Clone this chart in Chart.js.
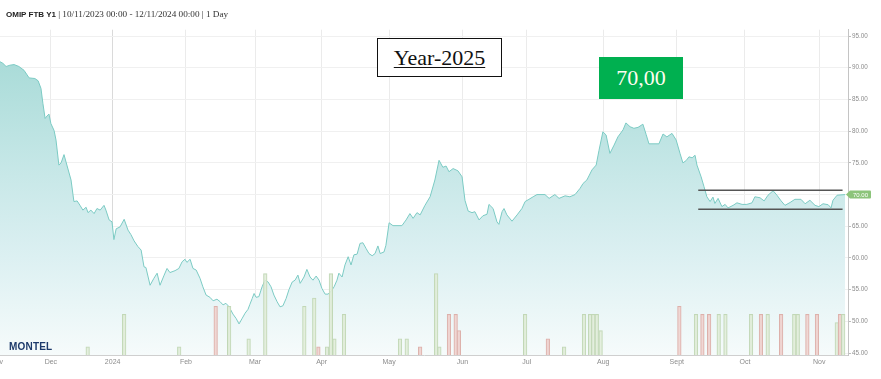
<!DOCTYPE html>
<html>
<head>
<meta charset="utf-8">
<script src="https://cdn.jsdelivr.net/npm/chart.js@4.4.1/dist/chart.umd.min.js"></script>
<style>
html,body{margin:0;padding:0;background:#fff;}
#wrap{position:relative;width:881px;height:379px;overflow:hidden;background:#fff;}
#c{position:absolute;left:0;top:0;}
#title{position:absolute;left:6px;top:9px;font-family:"Liberation Serif",serif;font-size:9.2px;line-height:11px;color:#333;white-space:nowrap;z-index:2;}
#title b{font-family:"Liberation Sans",Arial,sans-serif;font-size:8px;color:#222;}
#yearBox{position:absolute;left:377px;top:38px;width:123px;height:37px;border:1.5px solid #111;background:#fff;z-index:2;text-align:center;font-family:"Liberation Serif",serif;font-size:22px;line-height:37px;color:#111;}
#yearBox span{text-decoration:underline;text-decoration-thickness:1px;text-underline-offset:2px;}
#priceBox{position:absolute;left:599px;top:57px;width:84px;height:42px;background:#00b050;z-index:2;text-align:center;font-family:"Liberation Serif",serif;font-size:22px;line-height:42px;color:#fffdf0;}
#logo{position:absolute;left:9px;top:341px;font-family:"Liberation Sans",Arial,sans-serif;font-weight:bold;font-size:10px;line-height:12px;color:#1d3a6b;z-index:2;letter-spacing:0.2px;}
</style>
</head>
<body>
<div id="wrap">
<canvas id="c" width="881" height="379"></canvas>
<div id="title"><b>OMIP FTB Y1</b> | 10/11/2023 00:00 - 12/11/2024 00:00 | 1 Day</div>
<div id="yearBox"><span>Year-2025</span></div>
<div id="priceBox">70,00</div>
<div id="logo">MONTEL</div>
</div>
<script>
// ---- data (x = trading-day index from the left edge of the chart) ----
const monthTicks = [-1, 15.9, 35.2, 58.1, 79.7, 100.5, 121.6, 144.5, 164.6, 188.5, 211.5, 232.8, 256.0];
const monthLabels = ['Nov','Dec','2024','Feb','Mar','Apr','May','Jun','Jul','Aug','Sept','Oct','Nov'];
const priceTicks = [45,50,55,60,65,70,75,80,85,90,95];

const priceDays = [0.0,0.9,1.9,3.1,4.4,5.9,7.5,9.1,10.9,11.9,12.8,13.4,14.1,14.7,15.3,15.9,16.9,17.5,18.4,19.1,20.0,20.9,22.2,23.1,24.1,25.0,25.9,26.9,27.5,28.4,29.4,30.3,31.3,32.5,33.1,34.1,35.0,35.6,36.3,37.5,38.8,40.0,40.9,41.9,43.1,44.1,45.0,45.6,46.9,48.1,49.1,50.0,51.3,52.2,53.1,54.7,55.9,56.9,57.8,58.4,59.4,60.3,61.3,62.5,63.4,64.4,65.6,66.6,67.8,68.8,69.7,70.6,71.6,72.8,73.8,74.7,75.6,76.6,77.5,78.1,78.8,79.4,80.0,80.9,81.9,82.8,83.8,84.7,85.6,86.6,87.5,88.4,89.4,90.3,91.3,92.2,93.1,93.8,95.0,95.9,96.9,97.8,98.8,99.7,100.6,101.6,102.5,103.4,104.4,105.3,105.9,106.9,107.8,108.8,109.7,110.6,111.6,112.5,113.4,114.4,115.3,116.3,117.2,118.1,118.8,120.0,120.6,121.6,122.8,125.6,126.9,128.1,129.1,130.3,131.3,132.8,134.4,135.9,137.2,138.4,139.4,140.3,141.6,143.1,144.4,145.3,146.3,147.5,148.4,149.7,150.9,152.2,152.8,154.1,155.3,155.9,156.9,157.5,158.4,160.0,161.6,163.1,164.1,165.3,166.6,167.8,170.3,171.6,173.4,174.7,176.6,178.1,179.7,181.3,182.2,183.4,185.0,186.3,187.2,188.4,189.4,190.6,191.9,193.1,194.7,195.6,196.9,198.1,199.4,200.9,201.9,202.8,205.9,207.2,208.4,210.0,211.3,212.5,213.4,214.4,215.3,216.3,217.2,217.8,219.1,220.0,220.9,221.9,222.8,223.4,224.4,225.6,226.6,227.5,229.1,230.3,231.9,233.4,235.0,235.9,237.5,238.8,240.0,241.6,242.8,244.1,245.3,246.9,248.4,250.3,251.6,253.1,254.7,255.9,257.2,258.8,259.7,260.3,261.6,264.1];
const priceValues = [90.95,90.7,90.2,90.4,90.5,90.2,89.6,88.4,88.3,87.95,86.75,84.4,82.0,82.4,82.7,81.2,80.1,78.6,74.65,75.0,76.3,74.65,72.3,68.9,69.0,68.3,67.55,68.0,67.15,67.55,67.0,67.8,67.55,68.3,67.55,66.0,65.7,62.9,64.6,64.9,66.1,64.4,63.7,62.7,61.8,61.25,58.6,58.5,55.7,56.8,57.6,55.7,57.3,58.35,57.7,58.0,58.35,59.4,59.8,59.3,59.8,58.35,58.1,56.8,55.45,54.15,53.8,53.25,53.5,53.1,52.6,52.85,52.3,51.15,50.45,49.6,50.4,51.3,51.9,52.7,53.6,54.4,53.8,53.9,55.45,56.5,56.2,55.45,54.15,53.1,52.3,52.45,53.6,55.0,56.2,56.5,57.3,56.0,57.0,58.2,57.0,56.5,57.15,56.5,55.2,54.3,54.3,54.7,55.45,56.5,57.6,57.0,58.9,60.2,58.9,60.5,60.6,62.3,62.4,61.5,60.7,60.35,60.7,61.9,60.7,60.95,62.0,65.55,65.1,65.1,66.0,67.0,66.25,67.15,66.8,68.3,69.65,72.3,75.4,74.3,74.5,73.6,74.1,73.75,72.8,69.1,67.4,67.15,67.3,66.0,66.65,66.9,68.45,67.8,65.7,65.3,67.3,67.8,66.8,65.8,66.8,67.8,68.9,69.25,69.65,70.0,70.0,69.4,70.0,69.4,69.8,69.65,70.0,71.0,71.75,72.3,73.9,74.65,77.0,79.9,79.4,76.5,77.8,79.1,80.2,81.3,80.7,80.45,80.6,81.1,79.5,78.0,78.0,79.55,79.1,79.65,78.6,76.5,75.0,75.35,75.95,75.8,76.2,74.65,72.8,71.25,69.65,68.9,69.6,68.6,69.4,68.1,68.45,67.9,68.3,68.7,68.45,68.45,68.7,69.65,69.5,69.0,69.9,70.6,69.9,69.0,68.3,68.75,69.25,69.25,68.55,69.1,68.3,68.1,68.55,68.4,67.9,69.1,69.9,70.0];

const volDays = [27.4,38.8,56.0,67.4,71.6,77.7,82.9,95.1,98.2,99.5,102.2,103.4,104.5,107.5,125.0,127.1,131.3,136.3,137.3,140.3,142.4,143.4,164.1,171.2,176.3,182.5,184.4,185.4,186.5,187.7,212.3,217.5,219.5,221.6,224.6,226.7,234.7,237.8,239.9,244.1,248.2,249.3,252.3,255.3,261.5,262.5,263.5];
const volValues = [1,5,1,6,6,2,10,6,7,1,1,10,2,5,2,2,1,10,1,5,5,3,5,2,1,5,5,5,5,3,6,5,5,5,5,5,5,5,5,5,5,5,5,5,4,5,5];
const volDir = ['u','u','u','d','u','u','u','u','u','d','u','u','u','u','u','u','d','u','u','d','d','d','u','d','u','u','u','u','u','u','d','u','d','d','u','u','u','d','u','d','u','u','d','d','u','d','u'];

const channelDays = [218.2, 263.3];
const resistanceLevel = 70.7;
const supportLevel = 67.7;
const lastPrice = 70.00;

// ---- chart ----
Chart.defaults.font.family = '"Liberation Sans", Arial, sans-serif';

const priceData = priceDays.map((d, i) => ({x: d, y: priceValues[i]}));
const volData = volDays.map((d, i) => ({x: d, y: volValues[i]}));

const areaFill = (c) => {
  const ch = c.chart, a = ch.chartArea;
  if (!a) return 'rgba(0,0,0,0)';
  const g = ch.ctx.createLinearGradient(0, a.top, 0, a.bottom);
  g.addColorStop(0, '#a1d8d4');
  g.addColorStop(0.45, '#c8e8e8');
  g.addColorStop(0.7, '#dcf0f2');
  g.addColorStop(1, '#f6fbfb');
  return g;
};

const priceTag = {
  id: 'priceTag',
  afterDraw(chart) {
    const ctx = chart.ctx;
    const y = chart.scales.y.getPixelForValue(lastPrice);
    const x0 = chart.chartArea.right - 2;
    ctx.save();
    ctx.fillStyle = '#8cc47a';
    ctx.beginPath();
    ctx.moveTo(x0, y);
    ctx.lineTo(x0 + 4, y - 4);
    ctx.lineTo(x0 + 24, y - 4);
    ctx.quadraticCurveTo(x0 + 25, y - 4, x0 + 25, y - 3);
    ctx.lineTo(x0 + 25, y + 3);
    ctx.quadraticCurveTo(x0 + 25, y + 4, x0 + 24, y + 4);
    ctx.lineTo(x0 + 4, y + 4);
    ctx.closePath();
    ctx.fill();
    ctx.fillStyle = '#ffffff';
    ctx.font = '6px "Liberation Sans", Arial, sans-serif';
    ctx.textAlign = 'center';
    ctx.textBaseline = 'middle';
    ctx.fillText(lastPrice.toFixed(2), x0 + 14.5, y + 0.5);
    ctx.restore();
  }
};

new Chart(document.getElementById('c'), {
  type: 'line',
  data: {
    datasets: [
      {
        type: 'line', label: 'OMIP FTB Y1', data: priceData, yAxisID: 'y', order: 3,
        borderColor: '#7ccbc4', borderWidth: 1, pointRadius: 0, tension: 0,
        fill: 'start', backgroundColor: areaFill
      },
      {
        type: 'bar', label: 'Volume', data: volData, yAxisID: 'y2', order: 2,
        barThickness: 3.6, borderWidth: 1, borderSkipped: 'bottom',
        backgroundColor: volDir.map(d => d === 'u' ? 'rgba(226,238,219,0.8)' : 'rgba(240,212,208,0.85)'),
        borderColor: volDir.map(d => d === 'u' ? '#c2d8b7' : '#ddb1ab')
      },
      {
        type: 'line', label: 'Resistance', data: channelDays.map(d => ({x: d, y: resistanceLevel})),
        yAxisID: 'y', order: 1, borderColor: '#555', borderWidth: 1.5, pointRadius: 0, fill: false
      },
      {
        type: 'line', label: 'Support', data: channelDays.map(d => ({x: d, y: supportLevel})),
        yAxisID: 'y', order: 1, borderColor: '#555', borderWidth: 1.5, pointRadius: 0, fill: false
      }
    ]
  },
  options: {
    responsive: false,
    animation: false,
    layout: {padding: {top: 29.7, left: 0, right: 0, bottom: 0}},
    plugins: {legend: {display: false}, tooltip: {enabled: false}},
    scales: {
      x: {
        type: 'linear', position: 'bottom', min: 0, max: 265, offset: false,
        afterBuildTicks: s => { s.ticks = monthTicks.map(v => ({value: v})); },
        afterFit: s => { s.height = 24; s.paddingLeft = 0; s.paddingRight = 0; },
        grid: {
          offset: false, drawTicks: false,
          color: c => (c.index === 2 ? '#dadada' : '#ebebeb')
        },
        border: {display: true, color: '#cfcfcf'},
        ticks: {
          autoSkip: false, maxRotation: 0, padding: 3, color: '#8c8c8c',
          font: {size: 7},
          callback: (v, i) => monthLabels[i]
        }
      },
      y: {
        type: 'linear', position: 'right', min: 44.7, max: 96,
        afterBuildTicks: s => { s.ticks = priceTicks.map(v => ({value: v})); },
        afterFit: s => { s.width = 33; s.paddingTop = 0; s.paddingBottom = 0; },
        grid: {color: '#f0f0f0', tickColor: '#bdbdbd', tickLength: 3, drawTicks: true},
        border: {display: true, color: '#c4c4c4'},
        ticks: {padding: 1, color: '#8c8c8c', font: {size: 6.3}, callback: v => Number(v).toFixed(2)}
      },
      y2: {type: 'linear', display: false, min: 0, max: 40}
    }
  },
  plugins: [priceTag]
});
</script>
</body>
</html>
